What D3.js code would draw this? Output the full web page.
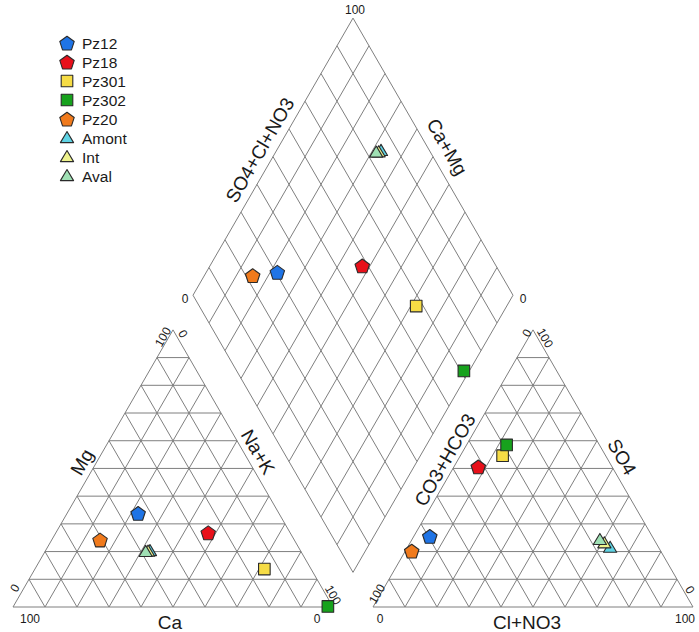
<!DOCTYPE html>
<html>
<head>
<meta charset="utf-8">
<script src="https://cdn.jsdelivr.net/npm/d3@7"></script>
<style>
  html, body { margin: 0; padding: 0; background: #fff; }
  svg { display: block; font-family: "Liberation Sans", Arial, sans-serif; }
</style>
</head>
<body>
<svg id="chart" width="699" height="632"></svg>
<script>
// Sample names, in drawing order
const samples = ["Pz12", "Pz18", "Pz301", "Pz302", "Pz20", "Amont", "Int", "Aval"];
// Cations, % of meq
const ca  = [44.0, 25.6, 14.6, 1.5, 60.7, 47.1, 47.8, 48.6];
const mg  = [33.8, 26.8, 13.7, 0.2, 24.2, 20.2, 20.0, 19.9];
const naK = [22.2, 47.6, 71.7, 98.3, 15.1, 32.7, 32.2, 31.5];
// Anions, % of meq
const hco3 = [69.5, 41.8, 32.2, 29.0, 77.8, 15.2, 16.2, 17.0];
const so4  = [25.5, 50.6, 54.6, 58.5, 20.2, 21.4, 23.0, 24.2];
const clNo3 = [5.0, 7.6, 13.2, 12.5, 2.0, 63.4, 60.8, 58.8];
// Marker appearance per sample
const shapes = ["pentagon", "pentagon", "square", "square", "pentagon", "triangle", "triangle", "triangle"];
const fills  = ["#1f74e6", "#e8101a", "#f6dc45", "#17a21d", "#f07a1c", "#5fd3e4", "#eef28c", "#9fe0b4"];
// Grid tick values (percent)
const gridTicks = d3.range(10, 100, 10);

const svg = d3.select("#chart");
const S3 = Math.sqrt(3) / 2;
const GAP = 0.125;           // space between the two ternary triangles
const OFF = 1 + GAP;         // x offset of the anion triangle

// Plot-unit scales: one triangle side = 1 unit
const x = d3.scaleLinear().domain([0, 2 + GAP]).range([13, 693]);
const y = d3.scaleLinear().domain([0, 1]).range([607, 287]);

const gridColor = "#7f7f7f";
const line = d3.line().x(d => x(d[0])).y(d => y(d[1]));

// ternary position from (top, right) fractions of a unit triangle shifted by dx
const tri = (top, right, dx) => [dx + right + 0.5 * top, top * S3];
// diamond: bottom vertex and projection of (Ca+Mg, SO4+Cl+NO3)
const B = [1 + GAP / 2, GAP * S3];
const dia = (caMg, anion) => [B[0] - 0.5 * caMg + 0.5 * anion, B[1] + S3 * (caMg + anion)];

const gGrid = svg.append("g");

function drawTriangle(dx) {
  const segs = [];
  gridTicks.forEach(t => {
    const f = t / 100;
    segs.push([tri(f, 0, dx), tri(f, 1 - f, dx)]);          // constant top component
    segs.push([tri(0, f, dx), tri(1 - f, f, dx)]);          // constant right component
    segs.push([tri(0, 1 - f, dx), tri(1 - f, 0, dx)]);      // constant left component
  });
  segs.forEach(s => gGrid.append("path").attr("d", line(s))
    .attr("fill", "none").attr("stroke", gridColor).attr("stroke-width", 1));
  gGrid.append("path")
    .attr("d", line([tri(0, 0, dx), tri(0, 1, dx), tri(1, 0, dx)]) + "Z")
    .attr("fill", "none").attr("stroke", gridColor).attr("stroke-width", 1);
}
drawTriangle(0);
drawTriangle(OFF);

// diamond grid
gridTicks.forEach(t => {
  const f = t / 100;
  [[dia(f, 0), dia(f, 1)], [dia(0, f), dia(1, f)]].forEach(s =>
    gGrid.append("path").attr("d", line(s))
      .attr("fill", "none").attr("stroke", gridColor).attr("stroke-width", 1));
});
gGrid.append("path")
  .attr("d", line([dia(0, 0), dia(1, 0), dia(1, 1), dia(0, 1)]) + "Z")
  .attr("fill", "none").attr("stroke", gridColor).attr("stroke-width", 1);

// text labels
const gText = svg.append("g").attr("fill", "#1a1a1a");
function label(txt, px, py, rot, size) {
  gText.append("text")
    .attr("transform", `translate(${px},${py}) rotate(${rot})`)
    .attr("text-anchor", "middle")
    .attr("dominant-baseline", "central")
    .attr("font-size", size)
    .text(txt);
}
// axis titles
label("Ca", 170, 622, 0, 19);
label("Mg", 82, 462, -60, 19);
label("Na+K", 258, 452, 60, 19);
label("Cl+NO3", 527, 622, 0, 19);
label("CO3+HCO3", 445, 460, -60, 19);
label("SO4", 622, 457, 60, 19);
label("SO4+Cl+NO3", 260, 150, -60, 19);
label("Ca+Mg", 447, 147, 60, 19);
// end values
label("100", 30, 619, 0, 12);
label("0", 317, 619, 0, 12);
label("0", 15, 588, -60, 12);
label("100", 163, 337, -60, 12);
label("0", 183, 334, 60, 12);
label("100", 333, 595, 60, 12);
label("0", 380, 619, 0, 12);
label("100", 685, 619, 0, 12);
label("100", 377, 594, -60, 12);
label("0", 527, 333, -60, 12);
label("100", 545, 338, 60, 12);
label("0", 690, 590, 60, 12);
label("100", 355, 10, 0, 12);
label("0", 185, 299, 0, 12);
label("0", 523, 299, 0, 12);

// marker path centred on 0,0
function markerPath(shape) {
  if (shape === "pentagon") {
    const r = 7.6;
    return d3.range(5).map(i => {
      const a = -Math.PI / 2 + i * 2 * Math.PI / 5;
      return (i ? "L" : "M") + (r * Math.cos(a)).toFixed(2) + "," + (r * Math.sin(a) + 0.8).toFixed(2);
    }).join("") + "Z";
  }
  if (shape === "square") return "M-5.8,-5.8L5.8,-5.8L5.8,5.8L-5.8,5.8Z";
  return "M0,-6.5L6.6,4.6L-6.6,4.6Z";
}

const gPts = svg.append("g");
samples.forEach((s, i) => {
  const cat = tri(mg[i] / 100, naK[i] / 100, 0);
  const an = tri(so4[i] / 100, clNo3[i] / 100, OFF);
  const dm = dia((ca[i] + mg[i]) / 100, (so4[i] + clNo3[i]) / 100);
  [cat, an, dm].forEach(p => {
    gPts.append("path")
      .attr("d", markerPath(shapes[i]))
      .attr("transform", `translate(${x(p[0])},${y(p[1])})`)
      .attr("fill", fills[i])
      .attr("stroke", "#2a2a2a")
      .attr("stroke-width", 1.1)
      .attr("stroke-linejoin", "round");
  });
});

// legend
const gLeg = svg.append("g");
samples.forEach((s, i) => {
  const ly = 43 + i * 19;
  gLeg.append("path")
    .attr("d", markerPath(shapes[i]))
    .attr("transform", `translate(67,${ly})`)
    .attr("fill", fills[i])
    .attr("stroke", "#2a2a2a")
    .attr("stroke-width", 1.1)
    .attr("stroke-linejoin", "round");
  gLeg.append("text")
    .attr("x", 82).attr("y", ly)
    .attr("dominant-baseline", "central")
    .attr("font-size", 15.5)
    .attr("fill", "#1a1a1a")
    .text(s);
});
</script>
</body>
</html>
